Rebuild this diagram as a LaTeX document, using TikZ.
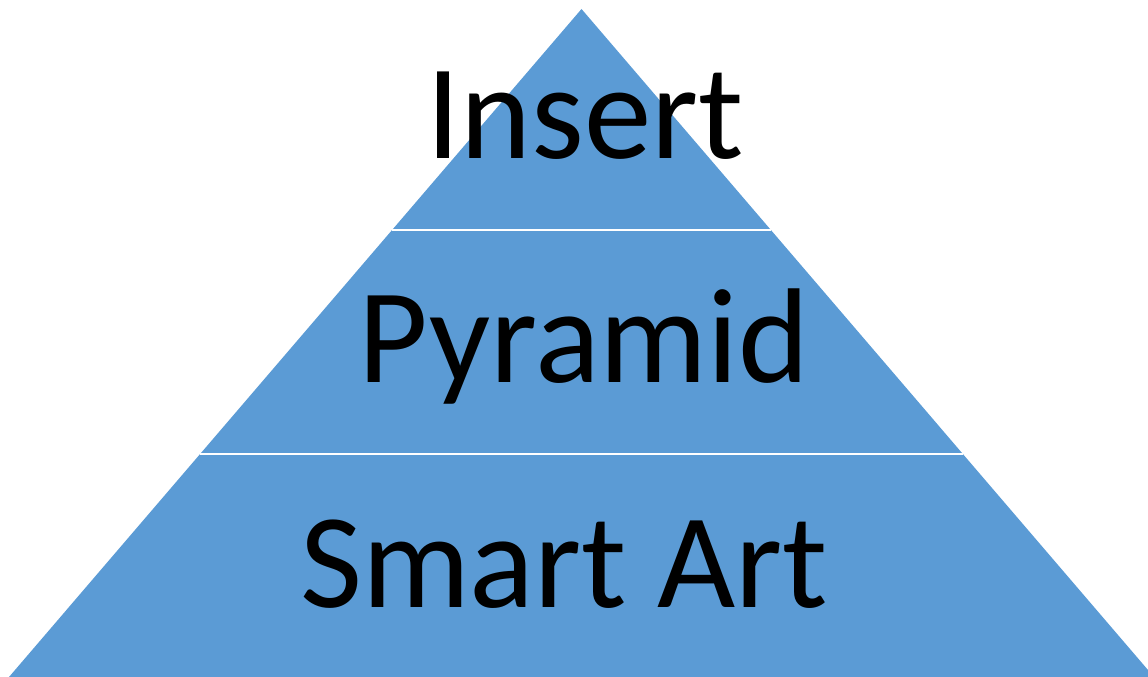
\documentclass[tikz,border=0pt]{standalone}
\usepackage{fontspec}
\setmainfont{Carlito}
\usepackage{xcolor}
\usetikzlibrary{calc}
\definecolor{bandblue}{HTML}{5B9BD5}

\begin{document}
\begin{tikzpicture}[
    x=1pt, y=-1pt,
    pyr/.style={fill=bandblue},
    sep/.style={draw=white, line width=2pt},
    lbl/.style={anchor=base, inner sep=0pt, text=black,
                font=\fontsize{135}{160}\selectfont}
]
\useasboundingbox (0,0) rectangle (1148,677);

% Pyramid outline (bottom right runs past the frame)
\coordinate (apex) at (581.5,9);
\coordinate (bl)   at (9,677);
\coordinate (br)   at (1154,677);
\fill[pyr] (apex) -- (bl) -- (br) -- cycle;

% White separators between the three levels
\coordinate (l1) at ($(apex)!0.3308!(bl)$);
\coordinate (r1) at ($(apex)!0.3308!(br)$);
\coordinate (l2) at ($(apex)!0.6662!(bl)$);
\coordinate (r2) at ($(apex)!0.6662!(br)$);
\draw[sep] (l1) -- (r1);
\draw[sep] (l2) -- (r2);

% Level labels
\node[lbl] (insert)   at (585,158) {Insert};
\node[lbl] (pyramid)  at (584,382) {Pyramid};
\node[lbl] (smartart) at (564,607) {Smart Art};
\end{tikzpicture}
\end{document}
